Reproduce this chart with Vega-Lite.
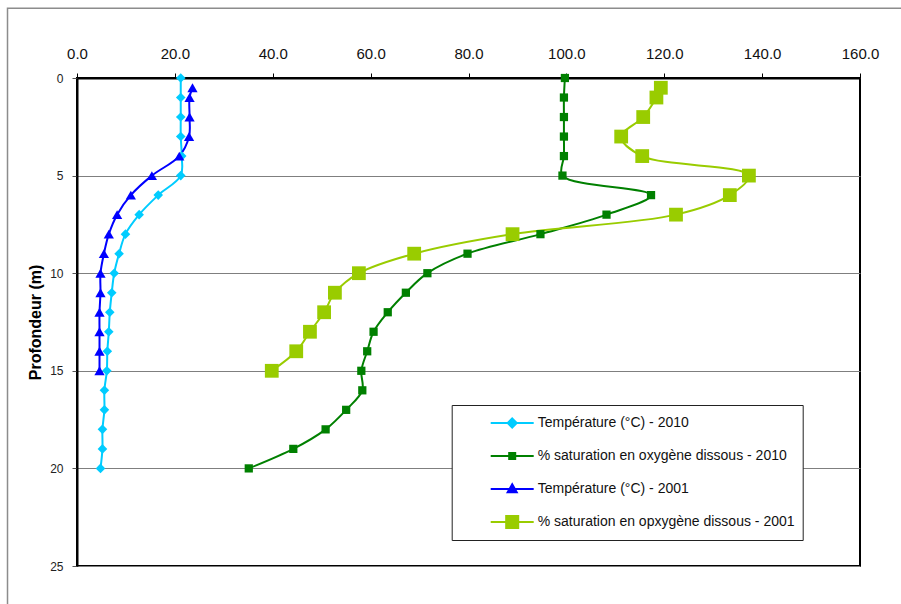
{
  "$schema": "https://vega.github.io/schema/vega-lite/v6.json",
  "width": 783,
  "height": 488,
  "autosize": {"type": "none"},
  "padding": {"left": 77, "top": 78, "right": 41, "bottom": 38},
  "background": "white",
  "config": {
    "font": "Liberation Sans",
    "view": {"stroke": "black", "strokeWidth": 2}
  },
  "layer": [
    {
      "data": {"values": [{"part": "chart area"}]},
      "mark": {"type": "rect", "fill": "transparent", "stroke": "#8c8c8c", "strokeWidth": 1.5},
      "encoding": {
        "x": {"datum": -14.2, "type": "quantitative", "scale": {"domain": [0, 160], "nice": false, "zero": false}},
        "x2": {"datum": 190},
        "y": {"datum": -3.57, "type": "quantitative", "scale": {"domain": [0, 25], "reverse": true, "nice": false, "zero": false}},
        "y2": {"datum": 32}
      }
    },
    {
      "data": {
        "values": [
          {"series": "Température (°C) - 2010", "depth": 0, "value": 21.2},
          {"series": "Température (°C) - 2010", "depth": 1, "value": 21.2},
          {"series": "Température (°C) - 2010", "depth": 2, "value": 21.2},
          {"series": "Température (°C) - 2010", "depth": 3, "value": 21.2},
          {"series": "Température (°C) - 2010", "depth": 4, "value": 21.4},
          {"series": "Température (°C) - 2010", "depth": 5, "value": 21.2},
          {"series": "Température (°C) - 2010", "depth": 6, "value": 16.6},
          {"series": "Température (°C) - 2010", "depth": 7, "value": 12.7},
          {"series": "Température (°C) - 2010", "depth": 8, "value": 9.9},
          {"series": "Température (°C) - 2010", "depth": 9, "value": 8.6},
          {"series": "Température (°C) - 2010", "depth": 10, "value": 7.6},
          {"series": "Température (°C) - 2010", "depth": 11, "value": 7.1},
          {"series": "Température (°C) - 2010", "depth": 12, "value": 6.7},
          {"series": "Température (°C) - 2010", "depth": 13, "value": 6.5},
          {"series": "Température (°C) - 2010", "depth": 14, "value": 6.2},
          {"series": "Température (°C) - 2010", "depth": 15, "value": 6.1},
          {"series": "Température (°C) - 2010", "depth": 16, "value": 5.6},
          {"series": "Température (°C) - 2010", "depth": 17, "value": 5.6},
          {"series": "Température (°C) - 2010", "depth": 18, "value": 5.2},
          {"series": "Température (°C) - 2010", "depth": 19, "value": 5.2},
          {"series": "Température (°C) - 2010", "depth": 20, "value": 4.8},
          {"series": "% saturation en oxygène dissous - 2010", "depth": 0, "value": 99.7},
          {"series": "% saturation en oxygène dissous - 2010", "depth": 1, "value": 99.5},
          {"series": "% saturation en oxygène dissous - 2010", "depth": 2, "value": 99.5},
          {"series": "% saturation en oxygène dissous - 2010", "depth": 3, "value": 99.5},
          {"series": "% saturation en oxygène dissous - 2010", "depth": 4, "value": 99.5},
          {"series": "% saturation en oxygène dissous - 2010", "depth": 5, "value": 99.2},
          {"series": "% saturation en oxygène dissous - 2010", "depth": 6, "value": 117.3},
          {"series": "% saturation en oxygène dissous - 2010", "depth": 7, "value": 108.2},
          {"series": "% saturation en oxygène dissous - 2010", "depth": 8, "value": 94.7},
          {"series": "% saturation en oxygène dissous - 2010", "depth": 9, "value": 79.8},
          {"series": "% saturation en oxygène dissous - 2010", "depth": 10, "value": 71.6},
          {"series": "% saturation en oxygène dissous - 2010", "depth": 11, "value": 67.2},
          {"series": "% saturation en oxygène dissous - 2010", "depth": 12, "value": 63.5},
          {"series": "% saturation en oxygène dissous - 2010", "depth": 13, "value": 60.6},
          {"series": "% saturation en oxygène dissous - 2010", "depth": 14, "value": 59.3},
          {"series": "% saturation en oxygène dissous - 2010", "depth": 15, "value": 58.1},
          {"series": "% saturation en oxygène dissous - 2010", "depth": 16, "value": 58.3},
          {"series": "% saturation en oxygène dissous - 2010", "depth": 17, "value": 55.0},
          {"series": "% saturation en oxygène dissous - 2010", "depth": 18, "value": 50.8},
          {"series": "% saturation en oxygène dissous - 2010", "depth": 19, "value": 44.2},
          {"series": "% saturation en oxygène dissous - 2010", "depth": 20, "value": 35.1},
          {"series": "Température (°C) - 2001", "depth": 0.5, "value": 23.6},
          {"series": "Température (°C) - 2001", "depth": 1, "value": 23.0},
          {"series": "Température (°C) - 2001", "depth": 2, "value": 23.0},
          {"series": "Température (°C) - 2001", "depth": 3, "value": 22.9},
          {"series": "Température (°C) - 2001", "depth": 4, "value": 20.9},
          {"series": "Température (°C) - 2001", "depth": 5, "value": 15.3},
          {"series": "Température (°C) - 2001", "depth": 6, "value": 11.0},
          {"series": "Température (°C) - 2001", "depth": 7, "value": 8.2},
          {"series": "Température (°C) - 2001", "depth": 8, "value": 6.5},
          {"series": "Température (°C) - 2001", "depth": 9, "value": 5.5},
          {"series": "Température (°C) - 2001", "depth": 10, "value": 4.8},
          {"series": "Température (°C) - 2001", "depth": 11, "value": 4.8},
          {"series": "Température (°C) - 2001", "depth": 12, "value": 4.6},
          {"series": "Température (°C) - 2001", "depth": 13, "value": 4.6},
          {"series": "Température (°C) - 2001", "depth": 14, "value": 4.6},
          {"series": "Température (°C) - 2001", "depth": 15, "value": 4.6},
          {"series": "% saturation en opxygène dissous - 2001", "depth": 0.5, "value": 119.3},
          {"series": "% saturation en opxygène dissous - 2001", "depth": 1, "value": 118.4},
          {"series": "% saturation en opxygène dissous - 2001", "depth": 2, "value": 115.7},
          {"series": "% saturation en opxygène dissous - 2001", "depth": 3, "value": 111.2},
          {"series": "% saturation en opxygène dissous - 2001", "depth": 4, "value": 115.5},
          {"series": "% saturation en opxygène dissous - 2001", "depth": 5, "value": 137.3},
          {"series": "% saturation en opxygène dissous - 2001", "depth": 6, "value": 133.4},
          {"series": "% saturation en opxygène dissous - 2001", "depth": 7, "value": 122.4},
          {"series": "% saturation en opxygène dissous - 2001", "depth": 8, "value": 89.0},
          {"series": "% saturation en opxygène dissous - 2001", "depth": 9, "value": 68.9},
          {"series": "% saturation en opxygène dissous - 2001", "depth": 10, "value": 57.6},
          {"series": "% saturation en opxygène dissous - 2001", "depth": 11, "value": 52.7},
          {"series": "% saturation en opxygène dissous - 2001", "depth": 12, "value": 50.5},
          {"series": "% saturation en opxygène dissous - 2001", "depth": 13, "value": 47.6},
          {"series": "% saturation en opxygène dissous - 2001", "depth": 14, "value": 44.8},
          {"series": "% saturation en opxygène dissous - 2001", "depth": 15, "value": 39.8}
        ]
      },
      "encoding": {
        "x": {
          "field": "value",
          "type": "quantitative",
          "scale": {"domain": [0, 160], "nice": false, "zero": false},
          "axis": {
            "orient": "top",
            "title": null,
            "values": [0, 20, 40, 60, 80, 100, 120, 140, 160],
            "format": ".1f",
            "grid": false,
            "labelFlush": false,
            "domainColor": "black",
            "domainWidth": 2,
            "tickColor": "black",
            "tickSize": 5,
            "tickWidth": 1,
            "labelFontSize": 15,
            "labelColor": "#111",
            "labelPadding": 12,
            "labelFont": "Liberation Sans"
          }
        },
        "y": {
          "field": "depth",
          "type": "quantitative",
          "scale": {"domain": [0, 25], "reverse": true, "nice": false, "zero": false},
          "axis": {
            "orient": "left",
            "title": "Profondeur (m)",
            "titleFont": "Liberation Sans",
            "titleFontSize": 16,
            "titleFontWeight": "bold",
            "titleColor": "black",
            "titlePadding": 6,
            "values": [0, 5, 10, 15, 20, 25],
            "format": "d",
            "grid": true,
            "labelFlush": false,
            "gridColor": "#7f7f7f",
            "gridWidth": 1,
            "domainColor": "black",
            "domainWidth": 2,
            "tickColor": "#555",
            "tickSize": 5,
            "tickWidth": 1,
            "labelFontSize": 12,
            "labelColor": "#222",
            "labelPadding": 9,
            "labelFont": "Liberation Sans"
          }
        }
      },
      "layer": [
        {
          "mark": {"type": "line", "interpolate": "catmull-rom", "strokeWidth": 2},
          "encoding": {
            "order": {"field": "depth", "type": "quantitative"},
            "color": {
              "field": "series",
              "type": "nominal",
              "scale": {
                "domain": ["Température (°C) - 2010", "% saturation en oxygène dissous - 2010", "Température (°C) - 2001", "% saturation en opxygène dissous - 2001"],
                "range": ["#00CCFF", "#008000", "#0000FF", "#99CC00"]
              },
              "legend": {
                "title": null,
                "orient": "none",
                "legendX": 374.7,
                "legendY": 327,
                "padding": 8,
                "strokeColor": "#222",
                "fillColor": "white",
                "symbolSize": 1849,
                "symbolOffset": 30,
                "symbolStrokeWidth": 2,
                "clipHeight": 20,
                "labelOffset": 3,
                "labelFont": "Liberation Sans",
                "labelFontSize": 14,
                "labelColor": "#111",
                "labelLimit": 400,
                "rowPadding": 13,
                "encode": {
                  "symbols": {
                    "update": {
                      "shape": {"signal": "['M-1,0L1,0M0,-0.21L0.21,0L0,0.21L-0.21,0Z','M-1,0L1,0M-0.14,-0.14L0.14,-0.14L0.14,0.14L-0.14,0.14Z','M-1,0L1,0M0,-0.22L0.21,0.15L-0.21,0.15Z','M-1,0L1,0M-0.28,-0.28L0.28,-0.28L0.28,0.28L-0.28,0.28Z'][datum.index]"},
                      "fill": {"scale": "color", "field": "value"},
                      "stroke": {"scale": "color", "field": "value"},
                      "strokeWidth": {"value": 2},
                      "opacity": {"value": 1}
                    }
                  }
                }
              }
            }
          }
        },
        {
          "transform": [{"filter": "datum.series === 'Température (°C) - 2010'"}],
          "mark": {"type": "point", "filled": true, "opacity": 1, "shape": "diamond", "size": 92, "color": "#00CCFF"}
        },
        {
          "transform": [{"filter": "datum.series === '% saturation en oxygène dissous - 2010'"}],
          "mark": {"type": "point", "filled": true, "opacity": 1, "shape": "square", "size": 68, "color": "#008000"}
        },
        {
          "transform": [{"filter": "datum.series === 'Température (°C) - 2001'"}],
          "mark": {"type": "point", "filled": true, "opacity": 1, "shape": "triangle-up", "size": 105, "color": "#0000FF"}
        },
        {
          "transform": [{"filter": "datum.series === '% saturation en opxygène dissous - 2001'"}],
          "mark": {"type": "point", "filled": true, "opacity": 1, "shape": "square", "size": 190, "color": "#99CC00"}
        }
      ]
    }
  ]
}
